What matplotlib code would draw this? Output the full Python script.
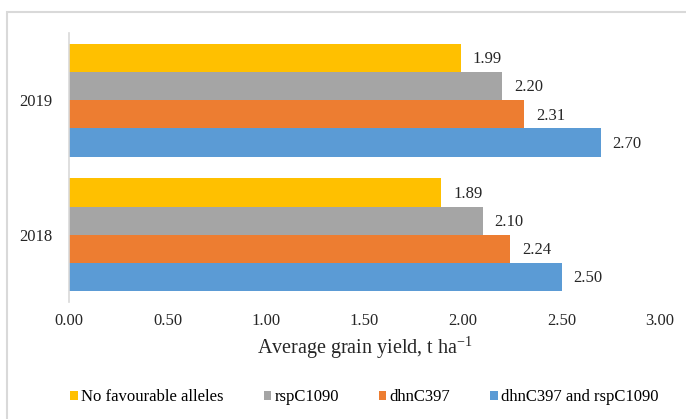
import matplotlib
matplotlib.use("Agg")
import matplotlib.pyplot as plt
from matplotlib.patches import Rectangle
import numpy as np

plt.rcParams['font.family'] = ['Liberation Serif', 'DejaVu Serif']
plt.rcParams['mathtext.fontset'] = 'custom'
plt.rcParams['mathtext.rm'] = 'Liberation Serif'
plt.rcParams['mathtext.it'] = 'Liberation Serif:italic'

years = ["2018", "2019"]
series_names = ["No favourable alleles", "rspC1090", "dhnC397", "dhnC397 and rspC1090"]
no_fav = [1.89, 1.99]
rsp = [2.10, 2.20]
dhn = [2.24, 2.31]
both = [2.50, 2.70]
colors = ["#FFC000", "#A5A5A5", "#ED7D31", "#5B9BD5"]
xticks = [0.0, 0.5, 1.0, 1.5, 2.0, 2.5, 3.0]

series = [no_fav, rsp, dhn, both]

fig = plt.figure(figsize=(6.86, 4.19), dpi=100)
fig.patches.append(Rectangle((7/686, -0.1), 1.2, 1 - 12/419 + 0.1, transform=fig.transFigure,
                             fill=False, edgecolor="#D9D9D9", linewidth=1.5))
ax = fig.add_axes([69/686, 1 - 302/419, (660 - 69)/686, (302 - 33)/419])

h = 0.21
offsets = [1.5 * h, 0.5 * h, -0.5 * h, -1.5 * h]
y = np.arange(len(years))
for vals, name, c, off in zip(series, series_names, colors, offsets):
    bars = ax.barh(y + off, vals, height=h, color=c, label=name)
    for b, v in zip(bars, vals):
        ax.text(v + 0.06, b.get_y() + b.get_height() / 2 - 0.01, f"{v:.2f}",
                va="center", ha="left", fontsize=12, color="#262626")

ax.set_xlim(0, 3.0)
ax.set_ylim(-0.5, 1.5)
ax.set_xticks(xticks)
ax.set_xticklabels([f"{t:.2f}" for t in xticks], fontsize=12, color="#262626")
ax.set_yticks(y)
ax.set_yticklabels(years, fontsize=12, color="#262626")
ax.tick_params(axis="both", length=0)
ax.tick_params(axis="x", pad=8)
ax.tick_params(axis="y", pad=12)
for s in ["top", "right", "bottom"]:
    ax.spines[s].set_visible(False)
ax.spines["left"].set_color("#D9D9D9")
ax.spines["left"].set_linewidth(1.2)
ax.set_xlabel("Average grain yield, t ha$^{\\mathregular{-1}}$", fontsize=14.5, color="#262626", labelpad=4)

handles, labels = ax.get_legend_handles_labels()
fig.legend(handles, labels, loc="center", bbox_to_anchor=(364.5/686, 1 - 397/419), ncol=4,
           frameon=False, fontsize=12, handlelength=0.45, handleheight=0.45,
           handletextpad=0.2, columnspacing=2.4)

fig.savefig("out.png", dpi=100)
